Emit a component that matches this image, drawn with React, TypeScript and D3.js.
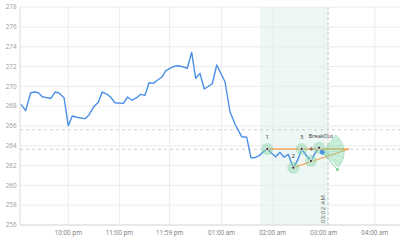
import React from "react";
import * as d3 from "d3";

// minutes offset from 22:00 and price values
const priceMinutes = [-55.5, -50, -44.2, -39.1, -35.2, -30.5, -25.4, -20.3, -15.6, -10.9, -5, 0, 4.7, 9.9, 19.6, 24.3, 29.4, 35.2, 39.9, 45.1, 49.8, 54.8, 64.6, 69.5, 75.1, 80.3, 85, 90.1, 94.8, 99.8, 105, 109.7, 114.4, 119.4, 124.5, 129.2, 133.9, 139.7, 144.9, 149.6, 154.6, 159.7, 169.1, 174.3, 184, 189.9, 195.7, 203.6, 209.5, 214.5, 219.2, 225.1, 229, 233.7, 238.8, 243.5, 248.6, 253.3, 258.3, 264.2, 269.4, 274, 279.1, 284.9, 289.6, 294.4, 298.2];
const priceValues = [268.19, 267.55, 269.36, 269.43, 269.36, 268.96, 268.86, 268.8, 269.43, 269.33, 268.86, 266.03, 267.01, 266.88, 266.74, 267.11, 267.89, 268.39, 269.43, 269.23, 268.9, 268.35, 268.29, 268.93, 268.6, 268.86, 269.2, 269.1, 270.37, 270.31, 270.65, 270.92, 271.59, 271.83, 272.03, 272.09, 271.99, 271.83, 273.44, 270.82, 271.32, 269.74, 270.27, 272.16, 270.47, 267.44, 266.2, 264.92, 264.86, 262.8, 262.8, 263.07, 263.4, 263.68, 263.24, 262.9, 263.34, 262.84, 263.14, 261.79, 262.57, 263.68, 263.07, 262.46, 263.24, 263.81, 263.34];

const yTicks = [256, 258, 260, 262, 264, 266, 268, 270, 272, 274, 276, 278];
const xTickMinutes = [0, 60, 119, 180, 240, 300, 360];
const xTickLabels = ["10:00 pm", "11:00 pm", "11:59 pm", "01:00 am", "02:00 am", "03:00 am", "04:00 am"];

const levelValues = [265.62, 263.64];

const pivotLabels = ["1", "2", "3", "4", "BreakOut"];
const pivotMinutes = [233.7, 264.2, 274, 284.9, 294.4];
const pivotValues = [263.68, 261.79, 263.68, 262.46, 263.81];

const apexMinute = 329.6;
const apexValue = 263.68;

const zoneStartMinute = 225;
const markerMinute = 305;
const markerLabel = "03:02 AM";

const targetMinute = 316;
const targetValue = 261.6;

const base = new Date(2024, 0, 1, 22, 0, 0).getTime();
const t = (m: number) => new Date(base + m * 60000);

export default function App() {
  const W = 400, H = 244;
  const left = 20, right = 400, top = 7.2, bottom = 225;
  const x = d3.scaleTime().domain([t(-56.7), t(389.5)]).range([left, right]);
  const y = d3.scaleLinear().domain([256, 278]).range([bottom, top]);

  const line = d3
    .line<number>()
    .x((_, i) => x(t(priceMinutes[i])))
    .y((v) => y(v));

  const endX = x(t(priceMinutes[priceMinutes.length - 1]));
  const endY = y(priceValues[priceValues.length - 1]);

  const arc = d3.arc()({
    innerRadius: 0,
    outerRadius: 22,
    startAngle: 0.65,
    endAngle: 2.3,
  } as any) as string;

  const font = "'Open Sans', 'DejaVu Sans', sans-serif";

  return (
    <svg width={W} height={H} style={{ position: "absolute", left: 0, top: 0 }} fontFamily={font}>
      <rect width={W} height={H} fill="#fff" />
      {/* zone */}
      <rect
        x={x(t(zoneStartMinute))}
        y={top}
        width={x(t(markerMinute)) - x(t(zoneStartMinute))}
        height={bottom - top}
        fill="#edf7f5"
      />
      {/* grid */}
      {yTicks.map((v) => (
        <line key={"gy" + v} x1={left} x2={right} y1={y(v)} y2={y(v)} stroke="#ececec" strokeWidth={1} />
      ))}
      {xTickMinutes.map((m) => (
        <line key={"gx" + m} x1={x(t(m))} x2={x(t(m))} y1={top} y2={bottom} stroke="#ececec" strokeWidth={1} />
      ))}
      {/* axes */}
      <line x1={left} x2={left} y1={top} y2={bottom} stroke="#dcdcdc" />
      <line x1={left} x2={right} y1={bottom} y2={bottom} stroke="#dcdcdc" />
      {yTicks.map((v) => (
        <text key={"ly" + v} x={16.5} y={y(v)} dy="0.35em" textAnchor="end" fontSize={6.3} fill="#9a9a9a">
          {v}
        </text>
      ))}
      {xTickMinutes.map((m, i) => (
        <text key={"lx" + m} x={x(t(m))} y={234.5} textAnchor="middle" fontSize={6.3} fill="#777">
          {xTickLabels[i]}
        </text>
      ))}
      {/* levels */}
      {levelValues.map((v) => (
        <line key={"lv" + v} x1={left} x2={right} y1={y(v)} y2={y(v)} stroke="#cfcfcf" strokeDasharray="3,3" strokeWidth={1} />
      ))}
      {/* marker */}
      <line x1={x(t(markerMinute))} x2={x(t(markerMinute))} y1={top} y2={bottom} stroke="#c4c4c4" strokeDasharray="3,2" />
      <text
        transform={`translate(${x(t(markerMinute)) - 3.5},${209}) rotate(-90)`}
        textAnchor="middle"
        fontSize={6}
        fill="#555"
        letterSpacing={0.3}
      >
        {markerLabel}
      </text>
      {/* price line */}
      <path d={line(priceValues) || ""} fill="none" stroke="#4a8fe7" strokeWidth={1.4} strokeLinejoin="round" />
      {/* trendlines */}
      <line x1={x(t(pivotMinutes[0]))} y1={y(pivotValues[0])} x2={x(t(apexMinute))} y2={y(apexValue)} stroke="#f4a65e" strokeWidth={1.5} />
      <line x1={x(t(pivotMinutes[1]))} y1={y(pivotValues[1])} x2={x(t(apexMinute))} y2={y(apexValue)} stroke="#f4a65e" strokeWidth={1.2} />
      {/* target fan */}
      <g transform={`translate(${endX},${endY})`}>
        <path d={arc} fill="rgba(110,205,150,0.35)" stroke="rgba(110,205,150,0.6)" strokeWidth={0.6} />
        {[0.9, 1.2, 1.5, 1.8, 2.1].map((a) => (
          <line key={a} x1={0} y1={0} x2={22 * Math.sin(a)} y2={-22 * Math.cos(a)} stroke="rgba(110,205,150,0.5)" strokeWidth={0.5} />
        ))}
      </g>
      <line x1={endX} y1={endY} x2={x(t(targetMinute))} y2={y(targetValue)} stroke="#86d3a8" strokeWidth={1} />
      <circle cx={x(t(targetMinute))} cy={y(targetValue)} r={1.6} fill="#86d3a8" />
      {/* pivots */}
      {pivotMinutes.map((m, i) => (
        <g key={"p" + i}>
          <circle cx={x(t(m))} cy={y(pivotValues[i])} r={6} fill="rgba(130,210,160,0.45)" />
          <circle cx={x(t(m))} cy={y(pivotValues[i])} r={1.6} fill="#333" stroke="#fff" strokeWidth={0.8} />
          <text
            x={x(t(m)) + (i === 4 ? 2 : 0)}
            y={y(pivotValues[i]) - 10}
            textAnchor="middle"
            fontSize={i === 4 ? 5.5 : 6}
            fill="#333"
          >
            {pivotLabels[i]}
          </text>
        </g>
      ))}
      <circle cx={endX} cy={endY} r={2.3} fill="#4a8fe7" />
    </svg>
  );
}
